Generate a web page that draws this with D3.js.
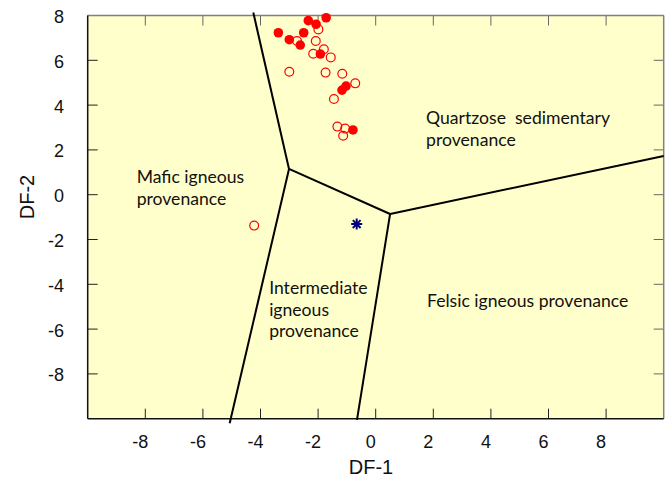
<!DOCTYPE html>
<html>
<head>
<meta charset="utf-8">
<script src="https://d3js.org/d3.v7.min.js"></script>
<style>
  body { margin: 0; background: #fff; }
  .tick-label { font: 18px "Liberation Sans", Arial, sans-serif; fill: #111; }
  .axis-title { font: 20px "Liberation Sans", Arial, sans-serif; fill: #111; }
  .field { font: 17.6px Lato, "Open Sans", sans-serif; fill: #111; white-space: pre; }
</style>
</head>
<body>
<div id="chart"></div>
<script>
// data (DF-1, DF-2)
var filledX = [-1.72, -2.34, -2.07, -3.38, -2.50, -3.00, -2.62, -1.92, -1.03, -1.17, -0.79];
var filledY = [7.90, 7.77, 7.61, 7.23, 7.23, 6.92, 6.68, 6.28, 4.85, 4.67, 2.89];

var openX = [-1.99, -2.73, -2.08, -1.80, -2.17, -1.56, -3.00, -1.74, -1.16, -0.71, -1.45, -1.33, -1.06, -1.13, -4.22];
var openY = [7.38, 6.86, 6.86, 6.49, 6.29, 6.13, 5.49, 5.45, 5.40, 4.97, 4.27, 3.04, 2.95, 2.63, -1.38];

var starX = [-0.66];
var starY = [-1.31];

// field boundaries
var boundaryLines = [
  [[-4.25, 8.13], [-3.01, 1.15]],
  [[-3.01, 1.15], [0.50, -0.86]],
  [[0.50, -0.86], [10.0, 1.73]],
  [[-3.01, 1.15], [-5.07, -10.2]],
  [[0.50, -0.86], [-0.65, -10.05]]
];

var fieldLabels = [
  {x: -8.3, y: 0.52, lines: ["Mafic igneous", "provenance"]},
  {x: 1.75, y: 3.16, lines: ["Quartzose  sedimentary", "provenance"]},
  {x: -3.7, y: -4.43, lines: ["Intermediate", "igneous", "provenance"]},
  {x: 1.78, y: -5.03, lines: ["Felsic igneous provenance"]}
];

var xTicks = [-8, -6, -4, -2, 0, 2, 4, 6, 8];
var yTicks = [8, 6, 4, 2, 0, -2, -4, -6, -8];

var width = 672, height = 480;
var plotLeft = 87.7, plotRight = 663.7, plotTop = 15.5, plotBottom = 418.7;

var x = d3.scaleLinear().domain([-10, 10]).range([plotLeft, plotRight]);
var y = d3.scaleLinear().domain([-10, 8]).range([plotBottom, plotTop]);

var svg = d3.select('#chart').append('svg')
    .attr('width', width)
    .attr('height', height);

// plot background
svg.append('rect')
    .attr('x', plotLeft).attr('y', plotTop)
    .attr('width', plotRight - plotLeft).attr('height', plotBottom - plotTop)
    .attr('fill', '#ffffcc');

// inward ticks on all four sides
var tickLen = 10;
var g = svg.append('g');
g.selectAll('.xb').data(xTicks).enter().append('line')
    .attr('x1', x).attr('x2', x)
    .attr('y1', plotBottom).attr('y2', plotBottom - tickLen)
    .attr('stroke', '#222').attr('stroke-width', 1);
g.selectAll('.xt').data(xTicks).enter().append('line')
    .attr('x1', x).attr('x2', x)
    .attr('y1', plotTop).attr('y2', plotTop + tickLen)
    .attr('stroke', '#666').attr('stroke-width', 1);
g.selectAll('.yl').data(yTicks).enter().append('line')
    .attr('y1', y).attr('y2', y)
    .attr('x1', plotLeft).attr('x2', plotLeft + tickLen)
    .attr('stroke', '#222').attr('stroke-width', 1);
g.selectAll('.yr').data(yTicks).enter().append('line')
    .attr('y1', y).attr('y2', y)
    .attr('x1', plotRight).attr('x2', plotRight - tickLen)
    .attr('stroke', '#666').attr('stroke-width', 1);

// frame
svg.append('line').attr('x1', plotLeft).attr('x2', plotRight).attr('y1', plotTop).attr('y2', plotTop)
    .attr('stroke', '#808080').attr('stroke-width', 1.5);
svg.append('line').attr('x1', plotRight).attr('x2', plotRight).attr('y1', plotTop).attr('y2', plotBottom)
    .attr('stroke', '#808080').attr('stroke-width', 1.5);
svg.append('line').attr('x1', plotLeft).attr('x2', plotRight).attr('y1', plotBottom).attr('y2', plotBottom)
    .attr('stroke', '#111').attr('stroke-width', 1.5);
svg.append('line').attr('x1', plotLeft).attr('x2', plotLeft).attr('y1', plotTop).attr('y2', plotBottom)
    .attr('stroke', '#111').attr('stroke-width', 1.5);

// boundaries
var line = d3.line().x(function(d) { return x(d[0]); }).y(function(d) { return y(d[1]); });
svg.selectAll('.bound').data(boundaryLines).enter().append('path')
    .attr('d', line)
    .attr('fill', 'none')
    .attr('stroke', '#000')
    .attr('stroke-width', 2);

// field labels
fieldLabels.forEach(function(f) {
  var t = svg.append('text').attr('class', 'field')
      .attr('x', x(f.x)).attr('y', y(f.y));
  f.lines.forEach(function(s, i) {
    t.append('tspan').attr('x', x(f.x)).attr('dy', i === 0 ? 0 : 21.6).text(s);
  });
});

// tick labels
svg.selectAll('.xlab').data(xTicks).enter().append('text')
    .attr('class', 'tick-label')
    .attr('x', function(d) { return x(d) - 5; })
    .attr('y', 448)
    .attr('text-anchor', 'middle')
    .text(function(d) { return d; });
svg.selectAll('.ylab').data(yTicks).enter().append('text')
    .attr('class', 'tick-label')
    .attr('x', 64)
    .attr('y', function(d) { return y(d) + 7.5; })
    .attr('text-anchor', 'end')
    .text(function(d) { return d; });

// axis titles
svg.append('text').attr('class', 'axis-title')
    .attr('x', 371).attr('y', 474)
    .attr('text-anchor', 'middle')
    .text('DF-1');
svg.append('text').attr('class', 'axis-title')
    .attr('transform', 'translate(34,197) rotate(-90)')
    .attr('text-anchor', 'middle')
    .text('DF-2');

// samples
var filled = d3.zip(filledX, filledY);
var open = d3.zip(openX, openY);
var stars = d3.zip(starX, starY);

svg.selectAll('.open').data(open).enter().append('circle')
    .attr('cx', function(d) { return x(d[0]); })
    .attr('cy', function(d) { return y(d[1]); })
    .attr('r', 4.4)
    .attr('fill', 'none')
    .attr('stroke', '#ff0000')
    .attr('stroke-width', 1.2);

svg.selectAll('.filled').data(filled).enter().append('circle')
    .attr('cx', function(d) { return x(d[0]); })
    .attr('cy', function(d) { return y(d[1]); })
    .attr('r', 4.8)
    .attr('fill', '#ff0000');

// eight-armed asterisk
var star = 'M0,-5.5L0,5.5M-5.5,0L5.5,0M-3.9,-3.9L3.9,3.9M-3.9,3.9L3.9,-3.9';
svg.selectAll('.star').data(stars).enter().append('path')
    .attr('d', star)
    .attr('transform', function(d) { return 'translate(' + x(d[0]) + ',' + y(d[1]) + ')'; })
    .attr('stroke', '#000080')
    .attr('stroke-width', 2)
    .attr('fill', 'none');
</script>
</body>
</html>
